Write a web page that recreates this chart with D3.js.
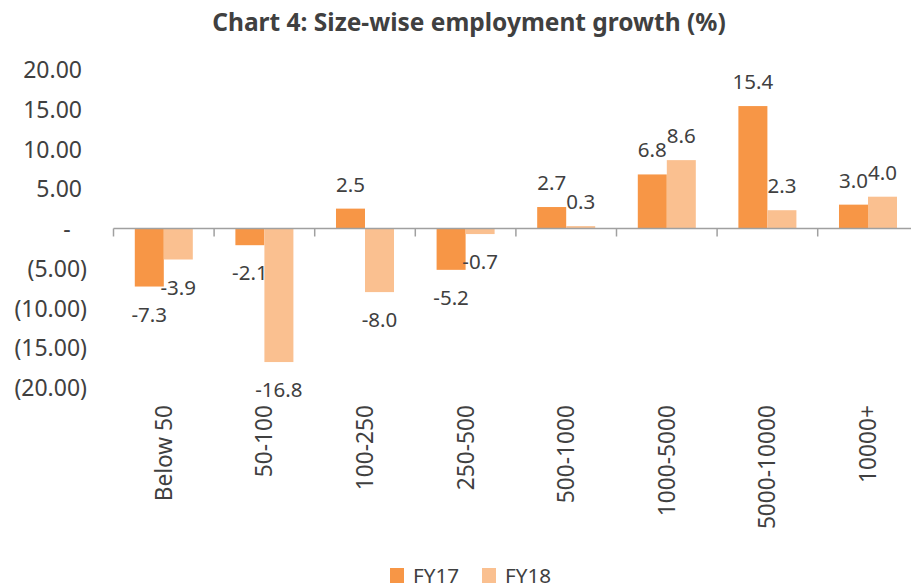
<!DOCTYPE html>
<html>
<head>
<meta charset="utf-8">
<script src="https://cdn.jsdelivr.net/npm/d3@7"></script>
<style>
  body { margin: 0; background: #fff; }
  svg { display: block; font-family: "Noto Sans", sans-serif; }
</style>
</head>
<body>
<svg width="911" height="588"></svg>
<script>
// chart data
var categories = ["Below 50", "50-100", "100-250", "250-500", "500-1000", "1000-5000", "5000-10000", "10000+"];
var seriesNames = ["FY17", "FY18"];
var fy17 = [-7.3, -2.1, 2.5, -5.2, 2.7, 6.8, 15.4, 3.0];
var fy18 = [-3.9, -16.8, -8.0, -0.7, 0.3, 8.6, 2.3, 4.0];
var yTicks = [20, 15, 10, 5, 0, -5, -10, -15, -20];
var colors = ["#f79646", "#fac090"];

var svg = d3.select("svg");
var textColor = "#404040";

var rows = categories.map(function (c, i) {
    return { cat: c, values: [{ key: "FY17", v: fy17[i] }, { key: "FY18", v: fy18[i] }] };
});

var x0 = d3.scaleBand().domain(categories).range([113.5, 918.3]).padding(0);
var x1 = d3.scaleBand().domain(seriesNames).range([0, x0.bandwidth()]).paddingInner(0).paddingOuter(0.734);
var y = d3.scaleLinear().domain([-20, 20]).range([387.5, 69.5]);
var z = d3.scaleOrdinal().domain(seriesNames).range(colors);

// title
svg.append("text")
    .attr("x", 469)
    .attr("y", 31)
    .attr("text-anchor", "middle")
    .style("font-weight", "bold")
    .style("font-size", "24.5px")
    .attr("fill", textColor)
    .text("Chart 4: Size-wise employment growth (%)");

// y axis labels (accounting style)
function fmt(d) {
    if (d === 0) return "-";
    if (d < 0) return "(" + d3.format(".2f")(-d) + ")";
    return d3.format(".2f")(d);
}
var yAxis = svg.append("g")
    .attr("transform", "translate(82,0)")
    .call(d3.axisLeft(y).tickValues(yTicks).tickSize(0).tickPadding(0).tickFormat(fmt));
yAxis.select(".domain").remove();
yAxis.selectAll("text")
    .attr("fill", textColor)
    .style("font-size", "23px")
    .style("font-family", "'Noto Sans', sans-serif")
    .attr("dy", "0.35em")
    .attr("x", function (d) { return d < 0 ? 5 : (d === 0 ? -15 : 0); })
    .attr("text-anchor", function (d) { return d === 0 ? "middle" : "end"; });

// bars
var group = svg.selectAll(".cat")
    .data(rows)
    .enter().append("g")
    .attr("class", "cat")
    .attr("transform", function (d) { return "translate(" + x0(d.cat) + ",0)"; });

group.selectAll("rect")
    .data(function (d) { return d.values; })
    .enter().append("rect")
    .attr("x", function (d) { return x1(d.key); })
    .attr("width", x1.bandwidth())
    .attr("y", function (d) { return y(Math.max(0, d.v)); })
    .attr("height", function (d) { return Math.abs(y(d.v) - y(0)); })
    .attr("fill", function (d) { return z(d.key); });

// data labels (plain hyphen for negatives, as in the source)
group.selectAll(".lbl")
    .data(function (d) { return d.values; })
    .enter().append("text")
    .attr("class", "lbl")
    .attr("x", function (d) { return x1(d.key) + x1.bandwidth() / 2; })
    .attr("y", function (d) { return d.v >= 0 ? y(d.v) - 17 : y(d.v) + 35; })
    .attr("text-anchor", "middle")
    .attr("fill", textColor)
    .style("font-size", "20.5px")
    .text(function (d) { return d.v.toFixed(1); });

// x axis at zero
var xAxis = svg.append("g")
    .attr("transform", "translate(0," + y(0) + ")");
xAxis.append("line")
    .attr("x1", x0.range()[0])
    .attr("x2", 911)
    .attr("stroke", "#a0a0a0")
    .attr("stroke-width", 1.5);
xAxis.selectAll(".tick")
    .data(categories.concat(["end"]))
    .enter().append("line")
    .attr("x1", function (d, i) { return x0.range()[0] + i * x0.step(); })
    .attr("x2", function (d, i) { return x0.range()[0] + i * x0.step(); })
    .attr("y1", 0)
    .attr("y2", 8)
    .attr("stroke", "#a0a0a0")
    .attr("stroke-width", 1.5);

// category labels, rotated
svg.selectAll(".catlbl")
    .data(categories)
    .enter().append("text")
    .attr("class", "catlbl")
    .attr("transform", function (d) {
        return "translate(" + (x0(d) + x0.bandwidth() / 2) + ",405) rotate(-90)";
    })
    .attr("text-anchor", "end")
    .attr("dy", "0.35em")
    .attr("fill", textColor)
    .style("font-size", "22.7px")
    .text(function (d) { return d; });

// legend
var legendX = [390, 482];
var legend = svg.selectAll(".legend")
    .data(seriesNames)
    .enter().append("g")
    .attr("class", "legend")
    .attr("transform", function (d, i) { return "translate(" + legendX[i] + ",568)"; });
legend.append("rect")
    .attr("width", 14)
    .attr("height", 15)
    .attr("fill", function (d) { return z(d); });
legend.append("text")
    .attr("x", 23)
    .attr("y", 7.5)
    .attr("dy", "0.35em")
    .attr("fill", textColor)
    .style("font-size", "20.7px")
    .text(function (d) { return d; });
</script>
</body>
</html>
